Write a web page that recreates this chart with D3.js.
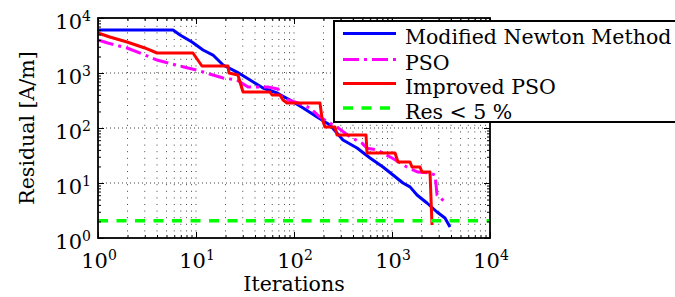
<!DOCTYPE html>
<meta charset="utf-8">
<head>
	<title>Residual vs iterations</title>
	<style>
		body { margin: 0; background: #fff; }
		.grid line { stroke: #444; stroke-width: 1; }
	</style>
</head>
<body>
	<div id="chart"></div>
</body>

<script src="https://cdnjs.cloudflare.com/ajax/libs/d3/7.8.5/d3.min.js"></script>

<script type="text/javascript">

	// Tick values and labels (powers of ten)
	var majorTicks = [1, 10, 100, 1000, 10000];
	var tickPowers = ["0", "1", "2", "3", "4"];

	var seriesNames = ["Modified Newton Method", "PSO", "Improved PSO", "Res < 5 %"];

	// Modified Newton Method
	var newtonX = [1, 5.83, 6.87, 9.1, 11.8, 14.9, 18.9, 26.2, 35.6, 48.3, 67.1, 91, 124, 172, 233, 316, 440, 597, 809, 1024, 1294, 1527, 1800, 2275, 2880, 3470, 3910];
	var newtonY = [6050, 6050, 4910, 3660, 2620, 2120, 1400, 1040, 746, 534, 433, 323, 231, 158, 113, 60.5, 43.3, 28.5, 19.5, 14, 10, 8.5, 6.05, 4.33, 2.97, 2.31, 1.58];

	// PSO
	var psoX = [1, 1.26, 1.98, 3.02, 4.0, 5.7, 8.3, 10.2, 14.9, 18.9, 26.2, 34, 54, 68.7, 75.5, 110, 146, 184, 222, 275, 373, 494, 556, 703, 1000, 1420, 1840, 2440, 2750, 2880, 3470, 3720];
	var psoY = [3980, 3510, 2850, 2120, 1720, 1460, 1230, 1130, 920, 811, 746, 556, 556, 512, 351, 285, 231, 158, 129, 104, 69, 53, 43, 40, 28.5, 19.5, 15.8, 15.2, 14, 6.05, 4.5, 4.5];

	// Improved PSO
	var ipsoX = [1, 1.32, 1.98, 3.0, 4.0, 9.3, 11.5, 21.2, 21.7, 26.8, 28.1, 30.2, 56.9, 59.7, 71.9, 77.2, 84.9, 184, 193, 207, 262, 275, 543, 556, 1074, 1151, 1526, 1600, 1932, 2023, 2443, 2560];
	var ipsoY = [5340, 4520, 3660, 2850, 2310, 2310, 1340, 1340, 1000, 920, 686, 452, 452, 398, 398, 323, 285, 285, 152, 104, 104, 74.6, 74.6, 35.1, 35.1, 24.1, 24.1, 19.5, 19.5, 15.8, 15.8, 1.72];

	// Res < 5 % threshold
	var resX = [1, 10000];
	var resY = [2.05, 2.05];

	var width = 675;
	var height = 297;
	var pLeft = 98, pRight = 490, pTop = 18, pBottom = 238;

	var svg = d3.select("#chart").append("svg")
		.attr("width", width)
		.attr("height", height)
		.style("font-family", "'DejaVu Serif', serif");

	var x = d3.scaleLog().domain([1, 1e4]).range([pLeft, pRight]);
	var y = d3.scaleLog().domain([1, 1e4]).range([pBottom, pTop]);

	// minor positions 2..9 in each decade
	var minorTicks = [];
	majorTicks.slice(0, -1).forEach(function (m) {
		for (var k = 2; k <= 9; k++) minorTicks.push(m * k);
	});

	// Grid: dotted vertical at every tick, dotted horizontal at decades
	var grid = svg.append("g").attr("class", "grid");
	grid.selectAll("line.v")
		.data(majorTicks.concat(minorTicks).filter(function (d) { return d > 1 && d < 1e4; }))
		.enter().append("line")
		.attr("class", "v")
		.attr("x1", function (d) { return x(d); })
		.attr("x2", function (d) { return x(d); })
		.attr("y1", pBottom).attr("y2", pTop)
		.attr("stroke-dasharray", "1,5.6");
	grid.selectAll("line.h")
		.data(majorTicks.slice(1, -1))
		.enter().append("line")
		.attr("class", "h")
		.attr("x1", pLeft).attr("x2", pRight)
		.attr("y1", function (d) { return y(d); })
		.attr("y2", function (d) { return y(d); })
		.attr("stroke-dasharray", "1,3");

	// Lines
	var line = d3.line()
		.x(function (d) { return x(d[0]); })
		.y(function (d) { return y(d[1]); });

	var series = [
		{ xs: newtonX, ys: newtonY, color: "#0000ff", dash: null, w: 3 },
		{ xs: psoX, ys: psoY, color: "#ff00ff", dash: "16,5,3,5", w: 3 },
		{ xs: ipsoX, ys: ipsoY, color: "#ff0000", dash: null, w: 3 },
		{ xs: resX, ys: resY, color: "#00ff00", dash: "10,8.5", w: 3.5 }
	];

	series.forEach(function (s) {
		svg.append("path")
			.datum(d3.zip(s.xs, s.ys))
			.attr("d", line)
			.attr("fill", "none")
			.attr("stroke", s.color)
			.attr("stroke-width", s.w)
			.attr("stroke-linejoin", "round")
			.attr("stroke-dasharray", s.dash);
	});

	// Axes: ticks pointing inward on all four sides
	function addAxis(axisFn, scale, transform, size, values) {
		svg.append("g")
			.attr("transform", transform)
			.call(axisFn(scale).tickValues(values).tickSize(size).tickFormat(""))
			.call(function (g) { g.select(".domain").remove(); g.selectAll("line").attr("stroke", "#000"); });
	}
	addAxis(d3.axisBottom, x, "translate(0," + pBottom + ")", -6, majorTicks);
	addAxis(d3.axisBottom, x, "translate(0," + pBottom + ")", -3, minorTicks);
	addAxis(d3.axisTop, x, "translate(0," + pTop + ")", -6, majorTicks);
	addAxis(d3.axisTop, x, "translate(0," + pTop + ")", -3, minorTicks);
	addAxis(d3.axisLeft, y, "translate(" + pLeft + ",0)", -6, majorTicks);
	addAxis(d3.axisLeft, y, "translate(" + pLeft + ",0)", -3, minorTicks);
	addAxis(d3.axisRight, y, "translate(" + pRight + ",0)", -6, majorTicks);
	addAxis(d3.axisRight, y, "translate(" + pRight + ",0)", -3, minorTicks);

	svg.append("rect")
		.attr("x", pLeft).attr("y", pTop)
		.attr("width", pRight - pLeft).attr("height", pBottom - pTop)
		.attr("fill", "none")
		.attr("stroke", "#000")
		.attr("stroke-width", 1.8);

	// Tick labels 10^n
	function powerLabel(sel) {
		sel.append("tspan").text("10");
		sel.append("tspan")
			.attr("dy", -8)
			.attr("font-size", 14)
			.text(function (d, i) { return tickPowers[i]; });
	}

	svg.selectAll("text.xt")
		.data(majorTicks)
		.enter().append("text")
		.attr("class", "xt")
		.attr("x", function (d) { return x(d) + 1; })
		.attr("y", 268)
		.attr("font-size", 21)
		.attr("text-anchor", "middle")
		.call(powerLabel);

	svg.selectAll("text.yt")
		.data(majorTicks)
		.enter().append("text")
		.attr("class", "yt")
		.attr("x", 91)
		.attr("y", function (d) { return y(d) + 10.5; })
		.attr("font-size", 21)
		.attr("text-anchor", "end")
		.call(powerLabel);

	svg.append("text")
		.attr("x", (pLeft + pRight) / 2)
		.attr("y", 291)
		.attr("font-size", 20.5)
		.attr("text-anchor", "middle")
		.text("Iterations");

	svg.append("text")
		.attr("transform", "translate(34," + ((pTop + pBottom) / 2) + ") rotate(-90)")
		.attr("font-size", 20.5)
		.attr("text-anchor", "middle")
		.text("Residual [A/m]");

	// Legend
	var legend = svg.append("g");
	legend.append("rect")
		.attr("x", 334).attr("y", 21)
		.attr("width", 360).attr("height", 101)
		.attr("fill", "#fff")
		.attr("stroke", "#000")
		.attr("stroke-width", 2);

	var rowY = [33.5, 59.5, 83.5, 108];
	series.forEach(function (s, i) {
		legend.append("line")
			.attr("x1", 343).attr("x2", 396)
			.attr("y1", rowY[i]).attr("y2", rowY[i])
			.attr("stroke", s.color)
			.attr("stroke-width", s.w)
			.attr("stroke-dasharray", s.dash);
		legend.append("text")
			.attr("x", 405)
			.attr("y", rowY[i] + 10.5)
			.attr("font-size", 20.5)
			.text(seriesNames[i]);
	});

</script>
</html>
